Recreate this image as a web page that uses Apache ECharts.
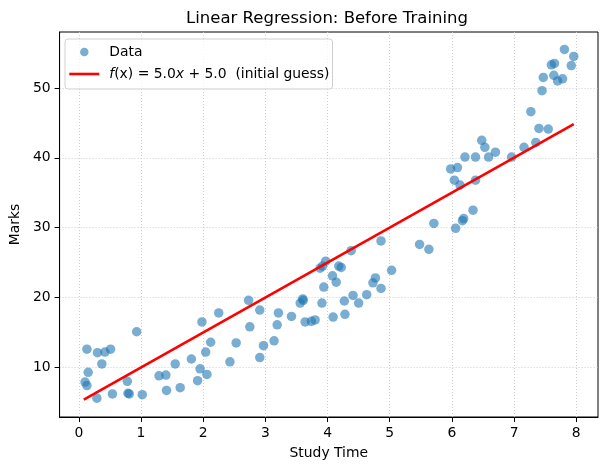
<!DOCTYPE html>
<html>
<head>
<meta charset="utf-8">
<script src="https://cdn.jsdelivr.net/npm/echarts@6/dist/echarts.min.js"></script>
<style>
  html, body { margin: 0; padding: 0; background: #ffffff; }
  #chart { width: 609px; height: 470px; }
</style>
</head>
<body>
<div id="chart"></div>
<script>
// study time (x) and marks (y)
let studyTime = [
  0.10, 0.13, 0.13, 0.15, 0.29, 0.30, 0.37, 0.42, 0.51, 0.54,
  0.78, 0.79, 0.81, 0.93, 1.02, 1.29, 1.40, 1.41, 1.55, 1.63,
  1.81, 1.91, 1.95, 1.98, 2.04, 2.06, 2.12, 2.25, 2.43, 2.53,
  2.73, 2.75, 2.91, 2.91, 2.97, 3.14, 3.19, 3.21, 3.42, 3.56,
  3.60, 3.61, 3.64, 3.74, 3.80, 3.88, 3.91, 3.92, 3.94, 3.97,
  4.08, 4.09, 4.14, 4.18, 4.22, 4.27, 4.28, 4.38, 4.41, 4.50,
  4.63, 4.73, 4.77, 4.86, 4.86, 5.03, 5.48, 5.63, 5.71, 5.98,
  6.04, 6.06, 6.09, 6.13, 6.17, 6.19, 6.21, 6.34, 6.38, 6.38,
  6.48, 6.53, 6.59, 6.70, 6.96, 7.16, 7.27, 7.35, 7.40, 7.45,
  7.47, 7.55, 7.60, 7.64, 7.65, 7.70, 7.78, 7.81, 7.92, 7.96
];
let marks = [
  7.9, 7.4, 12.6, 9.3, 5.6, 12.1, 10.5, 12.2, 12.6, 6.2,
  8.0, 6.3, 6.2, 15.1, 6.1, 8.8, 8.9, 6.7, 10.5, 7.1,
  11.2, 8.1, 9.8, 16.5, 12.2, 9.0, 13.6, 17.8, 10.8, 13.5,
  19.6, 15.8, 18.2, 11.4, 13.1, 13.8, 16.1, 17.8, 17.3, 19.2,
  19.8, 19.6, 16.5, 16.6, 16.8, 24.2, 19.2, 24.5, 21.5, 25.2,
  23.1, 17.2, 22.2, 24.5, 24.3, 19.5, 17.6, 26.7, 20.3, 19.2,
  20.4, 22.1, 22.8, 21.3, 28.1, 23.9, 27.6, 26.9, 30.6, 38.4,
  36.8, 29.9, 38.6, 36.1, 31.0, 31.3, 40.1, 32.5, 40.1, 36.8,
  42.5, 41.5, 40.1, 40.8, 40.1, 41.5, 46.6, 42.2, 44.2, 49.6,
  51.5, 44.1, 53.3, 51.8, 53.5, 51.0, 51.3, 55.5, 53.2, 54.5
];

// initial guess of the model
let w = 5.0;
let b = 5.0;
let lineX = [0.08, 7.96];

let xTicks = [0, 1, 2, 3, 4, 5, 6, 7, 8];
let yTicks = [10, 20, 30, 40, 50];

let lineName = "f(x) = 5.0x + 5.0  (initial guess)";

let scatterData = studyTime.map((x, i) => [x, marks[i]]);
let lineData = lineX.map((x) => [x, w * x + b]);

const font = "DejaVu Sans";

let option = {
  animation: false,
  backgroundColor: "#ffffff",
  textStyle: { fontFamily: font },
  title: {
    text: "Linear Regression: Before Training",
    left: 327,
    textAlign: "center",
    top: 10,
    padding: 0,
    textStyle: {
      fontFamily: font,
      fontSize: 16.5,
      fontWeight: "normal",
      color: "#000000",
    },
  },
  legend: {
    orient: "vertical",
    left: 65,
    top: 39,
    padding: [5, 3, 7, 3],
    itemGap: 6,
    itemWidth: 30,
    itemHeight: 8.5,
    backgroundColor: "rgba(255,255,255,0.8)",
    borderColor: "#d0d0d0",
    borderWidth: 1,
    borderRadius: 3,
    data: [
      { name: "Data", icon: "circle" },
      // line only, hide the symbol in the middle
      { name: lineName, itemStyle: { opacity: 0 }, lineStyle: { width: 2.6, color: "#ff0000" } },
    ],
    formatter: (name) =>
      name === "Data" ? "Data" : "{i|f}(x) = 5.0{i|x} + 5.0  (initial guess)",
    textStyle: {
      fontFamily: font,
      fontSize: 13.9,
      color: "#000000",
      lineHeight: 16,
      padding: [0, 0, 0, 5],
      rich: {
        i: { fontStyle: "italic", fontFamily: font, fontSize: 13.9, color: "#000000" },
      },
    },
  },
  grid: {
    left: 57,
    right: 11,
    top: 32,
    bottom: 53,
    containLabel: false,
    show: true,
    borderColor: "#000000",
    borderWidth: 1,
  },
  xAxis: {
    type: "value",
    min: -0.31,
    max: 8.35,
    name: "Study Time",
    nameLocation: "middle",
    nameGap: 29,
    nameTextStyle: { fontFamily: font, fontSize: 13.9, color: "#000000" },
    axisLine: { show: true, onZero: false, lineStyle: { color: "#000000", width: 1 } },
    axisTick: {
      show: true,
      length: 5,
      customValues: xTicks,
      lineStyle: { color: "#000000" },
    },
    axisLabel: {
      customValues: xTicks,
      margin: 9,
      fontFamily: font,
      fontSize: 13.9,
      color: "#000000",
    },
    splitLine: {
      show: true,
      lineStyle: { color: "#c8c8c8", type: [1, 2], width: 0.9 },
    },
  },
  yAxis: {
    type: "value",
    min: 2.9,
    max: 58.0,
    name: "Marks",
    nameLocation: "middle",
    nameGap: 32,
    nameTextStyle: { fontFamily: font, fontSize: 13.9, color: "#000000" },
    axisLine: { show: true, onZero: false, lineStyle: { color: "#000000", width: 1 } },
    axisTick: {
      show: true,
      length: 5,
      customValues: yTicks,
      lineStyle: { color: "#000000" },
    },
    axisLabel: {
      customValues: yTicks,
      margin: 9,
      fontFamily: font,
      fontSize: 13.9,
      color: "#000000",
    },
    splitLine: {
      show: true,
      lineStyle: { color: "#c8c8c8", type: [1, 2], width: 0.9 },
    },
  },
  series: [
    {
      name: "Data",
      type: "scatter",
      symbol: "circle",
      symbolSize: 9.5,
      data: scatterData,
      itemStyle: { color: "#1f77b4", opacity: 0.6 },
      z: 2,
    },
    {
      name: lineName,
      type: "line",
      symbol: "none",
      data: lineData,
      lineStyle: { color: "#ff0000", width: 2.6 },
      itemStyle: { color: "#ff0000" },
      z: 3,
    },
  ],
};

let myChart = echarts.init(document.getElementById("chart"));
myChart.setOption(option);
</script>
</body>
</html>
